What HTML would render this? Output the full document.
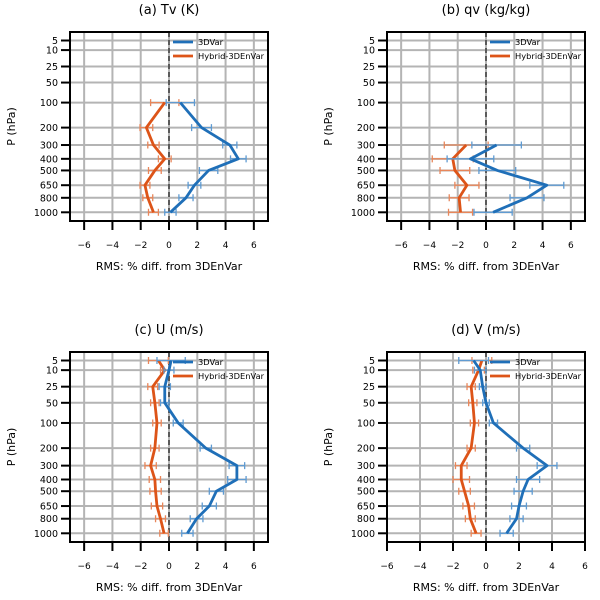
<!DOCTYPE html>
<html><head><meta charset="utf-8">
<style>
html,body{margin:0;padding:0;background:#fff;}
svg{display:block;font-family:"DejaVu Sans","Liberation Sans",sans-serif;}
</style></head>
<body>
<svg id="chart" width="600" height="600" viewBox="0 0 600 600" xmlns="http://www.w3.org/2000/svg"></svg>
<script>
const levels = [5,10,25,50,100,200,300,400,500,650,800,1000];
const xTicks = [-6,-4,-2,0,2,4,6];
const titles = ["(a) Tv (K)","(b) qv (kg/kg)","(c) U (m/s)","(d) V (m/s)"];
const a3dvar   = [null,null,null,null,0.8,2.3,4.3,4.9,2.8,1.8,1.2,0.1];
const a3dvarE  = [null,null,null,null,1.0,0.7,0.5,0.55,0.65,0.45,0.5,0.4];
const aHybrid  = [null,null,null,null,-0.3,-1.6,-1.1,-0.3,-1.0,-1.7,-1.5,-1.1];
const aHybridE = [null,null,null,null,1.0,0.45,0.4,0.45,0.45,0.35,0.35,0.35];
const b3dvar   = [null,null,null,null,null,null,0.75,-1.1,0.8,4.3,2.9,0.5];
const b3dvarE  = [null,null,null,null,null,null,1.75,1.65,1.3,1.2,1.2,1.35];
const bHybrid  = [null,null,null,null,null,null,-1.4,-2.35,-2.2,-1.35,-1.9,-1.8];
const bHybridE = [null,null,null,null,null,null,1.55,1.45,1.05,0.85,0.7,0.85];
const c3dvar   = [0.15,0.0,-0.3,-0.3,0.65,2.6,4.8,4.8,3.35,2.85,1.95,1.3];
const c3dvarE  = [1.0,0.35,0.4,0.3,0.35,0.4,0.55,0.65,0.5,0.5,0.45,0.4];
const cHybrid  = [-0.75,-0.3,-1.15,-1.0,-0.85,-1.0,-1.3,-1.0,-0.95,-0.85,-0.6,-0.35];
const cHybridE = [0.7,0.3,0.35,0.3,0.3,0.3,0.4,0.4,0.4,0.4,0.35,0.3];
const d3dvar   = [-0.75,-0.35,-0.2,0.0,0.45,2.25,3.7,2.55,2.25,2.0,1.85,1.25];
const d3dvarE  = [0.9,0.35,0.2,0.2,0.25,0.4,0.6,0.7,0.55,0.45,0.4,0.4];
const dHybrid  = [-0.25,-0.45,-0.9,-0.8,-0.7,-0.9,-1.5,-1.5,-1.3,-1.05,-0.95,-0.6];
const dHybridE = [0.6,0.35,0.25,0.25,0.25,0.25,0.35,0.5,0.35,0.35,0.3,0.3];

const panels = [
 {title:titles[0], box:[70,32,268,221], xlim:[-7,7], s1:a3dvar,e1:a3dvarE,s2:aHybrid,e2:aHybridE, key:"tv"},
 {title:titles[1], box:[387,32,585,221], xlim:[-7,7], s1:b3dvar,e1:b3dvarE,s2:bHybrid,e2:bHybridE, key:"qv"},
 {title:titles[2], box:[70,352,268,542], xlim:[-7,7], s1:c3dvar,e1:c3dvarE,s2:cHybrid,e2:cHybridE, key:"u"},
 {title:titles[3], box:[387,352,585,542], xlim:[-6,6], s1:d3dvar,e1:d3dvarE,s2:dHybrid,e2:dHybridE, key:"v"}
];
const BLUE="#1f6fb8", ORANGE="#dd5418", BLUE_L="#5f9bd2", ORANGE_L="#e8865a";
const svg=document.getElementById('chart');
const NS="http://www.w3.org/2000/svg";
function mk(tag,attrs,parent){const e=document.createElementNS(NS,tag);for(const k in attrs)e.setAttribute(k,attrs[k]);(parent||svg).appendChild(e);return e;}
const P=0.32;
panels.forEach((pn)=>{
  const [L,T,R,B]=pn.box;
  const g=mk('g',{});
  
  
  const y0=T+8.5, y1=B-8.7;
  const py=p=>y0+(Math.pow(p,P)-Math.pow(5,P))/(Math.pow(1000,P)-Math.pow(5,P))*(y1-y0);
  const px=v=>L+(v-pn.xlim[0])/(pn.xlim[1]-pn.xlim[0])*(R-L);
  xTicks.forEach(t=>{const l=mk('line',{x1:px(t),x2:px(t),y1:T,y2:B,stroke:'#b4b4b4','stroke-width':2},g);
    });
  levels.forEach(p=>{const l=mk('line',{x1:L,x2:R,y1:py(p),y2:py(p),stroke:'#b4b4b4','stroke-width':2},g);
    });
  const z=mk('line',{x1:px(0),x2:px(0),y1:T,y2:B,stroke:'#444','stroke-width':1.6,'stroke-dasharray':'5,3'},g);
  
  [[pn.s2,pn.e2,ORANGE,ORANGE_L,'hybrid'],[pn.s1,pn.e1,BLUE,BLUE_L,'3dvar']].forEach(([s,e,c,cl,nm])=>{
    let pts=[];
    s.forEach((v,i)=>{ if(v===null)return;
      const y=py(levels[i]); const xl=px(v-e[i]), xr=px(v+e[i]);
      const eb=mk('path',{d:`M${xl},${y}H${xr}M${xl},${y-3.5}V${y+3.5}M${xr},${y-3.5}V${y+3.5}`,stroke:cl,'stroke-width':1.3,fill:'none'},g);
      
      pts.push(px(v)+','+y);});
    const pl=mk('polyline',{points:pts.join(' '),fill:'none',stroke:c,'stroke-width':2.8,'stroke-linejoin':'round'},g);
    
  });
  const fr=mk('rect',{x:L,y:T,width:R-L,height:B-T,fill:'none',stroke:'#000','stroke-width':2},g);
  
  xTicks.forEach(t=>{mk('line',{x1:px(t),x2:px(t),y1:B,y2:B+9,stroke:'#000','stroke-width':2},g);
    const tx=mk('text',{x:px(t),y:B+27,'font-size':9,'text-anchor':'middle',fill:'#000'},g);
    tx.textContent=(t<0?'\u2212'+(-t):''+t);
    });
  levels.forEach(p=>{mk('line',{x1:L-9,x2:L,y1:py(p),y2:py(p),stroke:'#000','stroke-width':2},g);
    const tx=mk('text',{x:L-12,y:py(p)+3.5,'font-size':9.5,'text-anchor':'end',fill:'#000'},g);
    tx.textContent=p;});
  const ti=mk('text',{x:(L+R)/2,y:T-18,'font-size':13,'text-anchor':'middle'},g);ti.textContent=pn.title;
  
  const xl=mk('text',{x:(L+R)/2,y:B+49,'font-size':11,'text-anchor':'middle'},g);xl.textContent='RMS: % diff. from 3DEnVar';
  
  const yl=mk('text',{x:0,y:0,'font-size':11,'text-anchor':'middle',transform:`translate(${L-55},${(T+B)/2}) rotate(-90)`},g);yl.textContent='P (hPa)';
  
  const lg=mk('g',{},g);
  const lx=L+103;
  [[BLUE,'3DVar',T+10],[ORANGE,'Hybrid-3DEnVar',T+24]].forEach(([c,t,y])=>{
    mk('line',{x1:lx,x2:lx+20,y1:y,y2:y,stroke:c,'stroke-width':2.8},lg);
    const tx=mk('text',{x:lx+25,y:y+3,'font-size':8.3},lg);tx.textContent=t;
    });
});
</script>
</body></html>
